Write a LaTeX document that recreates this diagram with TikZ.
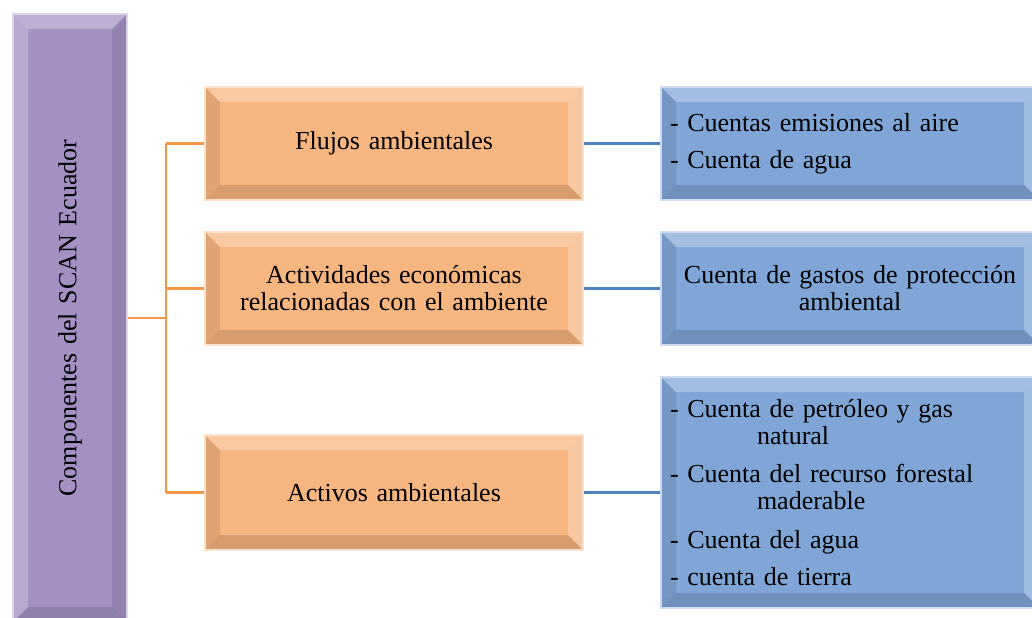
\documentclass[tikz,border=0pt]{standalone}
\usepackage{fontspec}
\setmainfont{Liberation Serif}
\definecolor{naranja}{RGB}{247,181,128}
\definecolor{morado}{RGB}{165,144,196}
\definecolor{azul}{RGB}{128,166,215}
\definecolor{lineanaranja}{RGB}{247,150,70}
\definecolor{lineaazul}{RGB}{79,129,189}
\newcommand{\biselancho}{7.5pt}
\tikzset{
	bisel sup/.style={fill=white,opacity=.28},
	bisel der/.style={fill=white,opacity=.25},
	bisel inf/.style={fill=black,opacity=.13},
	bisel izq/.style={fill=black,opacity=.09},
	bisel/.style={path picture={
		\fill[bisel sup] (path picture bounding box.north west) -- (path picture bounding box.north east) -- ([shift={(-\biselancho,-\biselancho)}]path picture bounding box.north east) -- ([shift={(\biselancho,-\biselancho)}]path picture bounding box.north west) -- cycle;%arriba
		\fill[bisel der] (path picture bounding box.north east) -- (path picture bounding box.south east) -- ([shift={(-\biselancho,\biselancho)}]path picture bounding box.south east) -- ([shift={(-\biselancho,-\biselancho)}]path picture bounding box.north east) -- cycle;%derecha
		\fill[bisel inf] (path picture bounding box.south east) -- (path picture bounding box.south west) -- ([shift={(\biselancho,\biselancho)}]path picture bounding box.south west) -- ([shift={(-\biselancho,\biselancho)}]path picture bounding box.south east) -- cycle;%abajo
		\fill[bisel izq] (path picture bounding box.south west) -- (path picture bounding box.north west) -- ([shift={(\biselancho,-\biselancho)}]path picture bounding box.north west) -- ([shift={(\biselancho,\biselancho)}]path picture bounding box.south west) -- cycle;%izquierda
	}},
	caja/.style={rectangle, bisel, line width=1pt, minimum height=56.5pt, text width=180pt, inner xsep=4.5pt, align=center, font=\fontsize{13}{13.5}\selectfont},
	cajanaranja/.style={caja, fill=naranja, draw=naranja!40!white},
	cajaazul/.style={caja, fill=azul, draw=azul!40!white},
	lineanar/.style={draw=lineanaranja, line width=1.2pt},
	lineaaz/.style={draw=lineaazul, line width=1.5pt}
}
\begin{document}
\begin{tikzpicture}[x=0.5pt,y=-0.5pt]
	\useasboundingbox (0,0) rectangle (1032,617);
	\clip (0,0) rectangle (1032,617);

	\node[caja, fill=morado, draw=morado!40!white, text width=48pt, minimum height=304pt,
		bisel izq/.style={fill=white,opacity=.22}, bisel der/.style={fill=black,opacity=.1}] (comp) at (70,318) {\rotatebox{90}{Componentes del SCAN Ecuador}};

	\node[cajanaranja] (flujos) at (394,143.5) {Flujos ambientales};
	\node[cajanaranja] (actividades) at (394,288.5) {Actividades económicas\\relacionadas con el ambiente};
	\node[cajanaranja, minimum height=57.5pt] (activos) at (394,492.5) {Activos ambientales};

	\node[cajaazul, align=left] (ctaflujos) at (850,143.5) {- Cuentas emisiones al aire\\[5pt]- Cuenta de agua};
	\node[cajaazul] (ctagastos) at (850,288.5) {Cuenta de gastos de protección\\ambiental};
	\node[cajaazul, align=left, minimum height=115.5pt] (ctaactivos) at (850,492.5) {- Cuenta de petróleo y gas\\\hspace*{43.5pt}natural\\[5.5pt]- Cuenta del recurso forestal\\\hspace*{43.5pt}maderable\\[6pt]- Cuenta del agua\\[5pt]- cuenta de tierra};

	\coordinate (tronco) at (166,318);
	\draw[lineanar] (comp.east) -- (tronco);
	\draw[lineanar] (tronco |- flujos.west) -- (tronco |- activos.west);
	\foreach \n in {flujos,actividades,activos}
		\draw[lineanar] (tronco |- \n.west) -- (\n.west);

	\draw[lineaaz] (flujos.east) -- (ctaflujos.west);
	\draw[lineaaz] (actividades.east) -- (ctagastos.west);
	\draw[lineaaz] (activos.east) -- (ctaactivos.west);
\end{tikzpicture}
\end{document}
